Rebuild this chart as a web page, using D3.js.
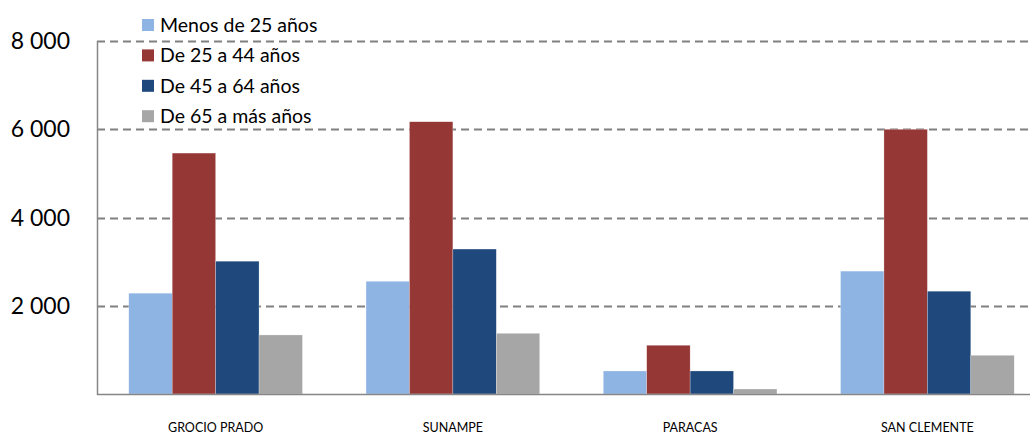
<!DOCTYPE html>
<html><head><meta charset="utf-8">
<script src="https://cdn.jsdelivr.net/npm/d3@7"></script>
<style>body{margin:0;background:#fff}svg{display:block}</style>
</head><body><svg id="c" width="1030" height="435"></svg>
<script>
const categories = ["GROCIO PRADO", "SUNAMPE", "PARACAS", "SAN CLEMENTE"];
const seriesNames = ["Menos de 25 años", "De 25 a 44 años", "De 45 a 64 años", "De 65 a más años"];
const menos25 = [2285, 2555, 522, 2785];
const de25a44 = [5460, 6170, 1105, 6000];
const de45a64 = [3010, 3285, 522, 2330];
const de65mas = [1338, 1376, 113, 878];
const yTicks = [2000, 4000, 6000, 8000];
const colors = ["#8EB4E3", "#953735", "#1F497D", "#A6A6A6"];

const series = [menos25, de25a44, de45a64, de65mas];
const svg = d3.select("#c");
const x0 = 97, x1 = 1046, yBase = 394, yTop = 41;
const x = d3.scaleBand().domain(categories).range([x0, x1]).paddingInner(0.268).paddingOuter(0.134);
const xs = d3.scaleBand().domain(d3.range(4)).range([0, x.bandwidth()]);
const y = d3.scaleLinear().domain([0, 8000]).range([yBase, yTop]);

// gridlines
svg.append("g").selectAll("line").data(yTicks).join("line")
  .attr("x1", x0).attr("x2", 1030).attr("y1", d => Math.round(y(d)) + 0.5).attr("y2", d => Math.round(y(d)) + 0.5)
  .attr("stroke", "#808080").attr("stroke-width", 1.8).attr("stroke-dasharray", "8,5");

// bars
const g = svg.append("g");
series.forEach((vals, si) => {
  g.selectAll(null).data(vals).join("rect")
    .attr("x", (d, i) => x(categories[i]) + xs(si))
    .attr("width", xs.bandwidth())
    .attr("y", d => y(d))
    .attr("height", d => yBase - y(d))
    .attr("fill", colors[si])
    .attr("stroke", "#ffffff").attr("stroke-opacity", 0.5).attr("stroke-width", 0.5);
});

// axes lines
svg.append("line").attr("x1", x0 + 0.5).attr("x2", x0 + 0.5).attr("y1", yTop).attr("y2", yBase + 1)
  .attr("stroke", "#868686").attr("stroke-width", 1.5);
svg.append("line").attr("x1", x0).attr("x2", 1030).attr("y1", yBase + 0.5).attr("y2", yBase + 0.5)
  .attr("stroke", "#868686").attr("stroke-width", 1.5);

// y tick labels
const fmt = d => d3.format(",")(d).replace(/,/g, " ");
svg.append("g").selectAll("text").data(yTicks).join("text")
  .attr("x", 70).attr("y", d => y(d)).attr("dy", "0.35em")
  .attr("text-anchor", "end").attr("font-family", "Lato, 'Open Sans', sans-serif").attr("font-size", 23)
  .attr("fill", "#000").text(fmt);

// category labels
svg.append("g").selectAll("text").data(categories).join("text")
  .attr("x", d => x(d) + x.bandwidth() / 2).attr("y", 432)
  .attr("text-anchor", "middle").attr("font-family", "Lato, 'Open Sans', sans-serif").attr("font-size", 12.5)
  .attr("fill", "#000").text(d => d);

// legend
const leg = svg.append("g");
seriesNames.forEach((n, i) => {
  const cy = 25 + i * 30.4;
  leg.append("rect").attr("x", 142).attr("y", cy - 6).attr("width", 12).attr("height", 12).attr("fill", colors[i]);
  leg.append("text").attr("x", 160).attr("y", cy).attr("dy", "0.35em")
    .attr("font-family", "Lato, 'Open Sans', sans-serif").attr("font-size", 19.5).attr("fill", "#000").text(n);
});
</script></body></html>
